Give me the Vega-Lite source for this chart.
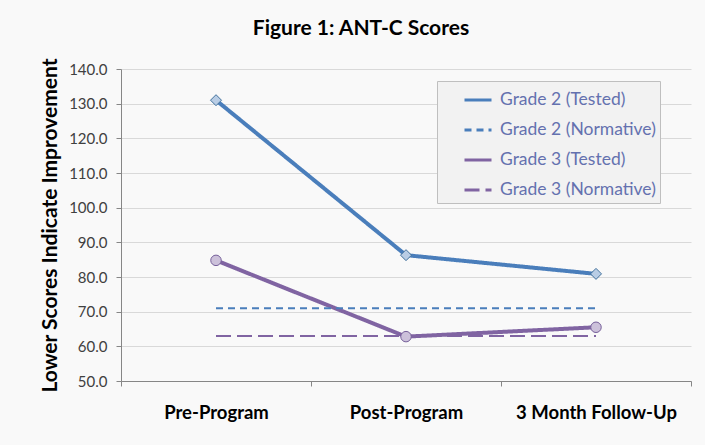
{
  "$schema": "https://vega.github.io/schema/vega-lite/v6.json",
  "width": 570,
  "height": 312,
  "autosize": {"type": "none"},
  "padding": {"left": 121, "top": 69, "right": 14, "bottom": 64},
  "background": "#f9f9f9",
  "title": {
    "text": "Figure 1: ANT-C Scores",
    "font": "Lato",
    "fontSize": 21,
    "fontWeight": "bold",
    "color": "#000000",
    "anchor": "middle",
    "frame": "group",
    "baseline": "alphabetic",
    "offset": 31,
    "dx": -45,
    "dy": 29
  },
  "config": {
    "font": "Lato",
    "view": {"stroke": null}
  },
  "data": {
    "values": [
      {"series": "Grade 2 (Tested)", "time": "Pre-Program", "score": 131.0},
      {"series": "Grade 2 (Tested)", "time": "Post-Program", "score": 86.3},
      {"series": "Grade 2 (Tested)", "time": "3 Month Follow-Up", "score": 80.9},
      {"series": "Grade 2 (Normative)", "time": "Pre-Program", "score": 71.0},
      {"series": "Grade 2 (Normative)", "time": "Post-Program", "score": 71.0},
      {"series": "Grade 2 (Normative)", "time": "3 Month Follow-Up", "score": 71.0},
      {"series": "Grade 3 (Tested)", "time": "Pre-Program", "score": 84.8},
      {"series": "Grade 3 (Tested)", "time": "Post-Program", "score": 62.8},
      {"series": "Grade 3 (Tested)", "time": "3 Month Follow-Up", "score": 65.5},
      {"series": "Grade 3 (Normative)", "time": "Pre-Program", "score": 63.0},
      {"series": "Grade 3 (Normative)", "time": "Post-Program", "score": 63.0},
      {"series": "Grade 3 (Normative)", "time": "3 Month Follow-Up", "score": 63.0}
    ]
  },
  "encoding": {
    "x": {
      "field": "time",
      "type": "nominal",
      "sort": ["Pre-Program", "Post-Program", "3 Month Follow-Up"],
      "title": null,
      "scale": {"paddingInner": 0, "paddingOuter": 0},
      "axis": {
        "labelAngle": 0,
        "labelFont": "Lato",
        "labelFontSize": 18.5,
        "labelFontWeight": "bold",
        "labelColor": "#000000",
        "tickBand": "extent",
        "grid": false,
        "domainColor": "#868686",
        "tickColor": "#868686",
        "tickSize": 5,
        "labelPadding": 17
      }
    },
    "y": {
      "field": "score",
      "type": "quantitative",
      "scale": {"domain": [50, 140], "nice": false, "zero": false},
      "title": "Lower Scores Indicate Improvement",
      "axis": {
        "values": [50, 60, 70, 80, 90, 100, 110, 120, 130, 140],
        "format": ".1f",
        "labelFontSize": 15,
        "labelColor": "#404040",
        "labelPadding": 9,
        "tickSize": 5,
        "tickColor": "#868686",
        "domainColor": "#868686",
        "gridColor": "#d9d9d9",
        "titleFontSize": 21,
        "titleFontWeight": "bold",
        "titleColor": "#000000",
        "titlePadding": 8
      }
    }
  },
  "layer": [
    {
      "transform": [{"filter": "indexof(datum.series, 'Tested') >= 0"}],
      "mark": {"type": "line", "strokeWidth": 4},
      "encoding": {
        "stroke": {
          "field": "series",
          "type": "nominal",
          "scale": {
            "domain": ["Grade 2 (Tested)", "Grade 2 (Normative)", "Grade 3 (Tested)", "Grade 3 (Normative)"],
            "range": ["#4a7ebb", "#4a7ebb", "#8064a2", "#8064a2"]
          },
          "legend": {
            "orient": "none",
            "legendX": 316,
            "legendY": 12,
            "title": null,
            "fillColor": "#f2f2f2",
            "strokeColor": "#bfbfbf",
            "padding": 4,
            "symbolType": "stroke",
            "symbolSize": 729,
            "symbolStrokeWidth": 3,
            "symbolOffset": 22,
            "labelFont": "Lato",
            "labelFontSize": 17.5,
            "labelColor": "#6471af",
            "labelOffset": 7,
            "rowPadding": 6
          }
        },
        "strokeDash": {
          "field": "series",
          "type": "nominal",
          "scale": {
            "domain": ["Grade 2 (Tested)", "Grade 2 (Normative)", "Grade 3 (Tested)", "Grade 3 (Normative)"],
            "range": [[1, 0], [7, 5], [1, 0], [15, 6]]
          }
        }
      }
    },
    {
      "transform": [{"filter": "indexof(datum.series, 'Normative') >= 0"}],
      "mark": {"type": "line", "strokeWidth": 2},
      "encoding": {
        "stroke": {"field": "series", "type": "nominal"},
        "strokeDash": {"field": "series", "type": "nominal"}
      }
    },
    {
      "transform": [{"filter": "datum.series == 'Grade 2 (Tested)'"}],
      "mark": {"type": "point", "shape": "diamond", "filled": true, "fill": "#b9cde5", "stroke": "#41719c", "strokeWidth": 1, "size": 121, "opacity": 1}
    },
    {
      "transform": [{"filter": "datum.series == 'Grade 3 (Tested)'"}],
      "mark": {"type": "point", "shape": "circle", "filled": true, "fill": "#ccc1da", "stroke": "#76609a", "strokeWidth": 1, "size": 110, "opacity": 1}
    }
  ]
}
